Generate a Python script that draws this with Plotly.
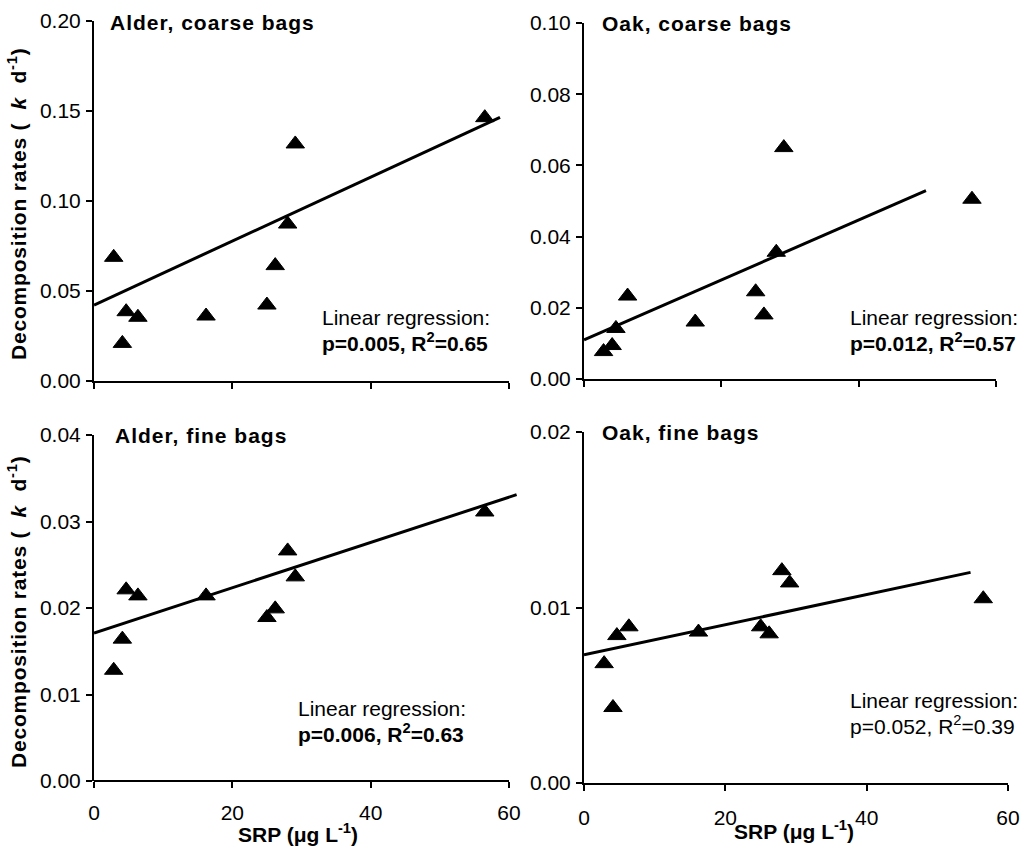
import plotly.graph_objects as go

# SRP concentration at each site (ug/L), shared by all four panels
srp = [2.85, 4.1, 4.65, 6.35, 16.2, 25.0, 26.2, 28.0, 29.1, 56.5]

# Decomposition rates k (per day)
alder_coarse = [0.0687, 0.0209, 0.0385, 0.0354, 0.0361, 0.0422, 0.0641, 0.0872, 0.1317, 0.1463]
oak_coarse = [0.0077, 0.0094, 0.0142, 0.0233, 0.0160, 0.0245, 0.0180, 0.0356, 0.0650, 0.0505]
alder_fine = [0.0128, 0.0164, 0.0221, 0.0214, 0.0214, 0.0189, 0.0199, 0.0266, 0.0236, 0.0311]
oak_fine = [0.0068, 0.0043, 0.0084, 0.0089, 0.0086, 0.0089, 0.0085, 0.0121, 0.0114, 0.0105]

# Fitted regression lines (end points)
fit_alder_coarse_x = [0, 58.7]
fit_alder_coarse_y = [0.0422, 0.1465]
fit_oak_coarse_x = [0, 49.8]
fit_oak_coarse_y = [0.0110, 0.0529]
fit_alder_fine_x = [0, 61.1]
fit_alder_fine_y = [0.0171, 0.0331]
fit_oak_fine_x = [0, 54.7]
fit_oak_fine_y = [0.0073, 0.0120]

panel_titles = ["Alder, coarse bags", "Oak, coarse bags", "Alder, fine bags", "Oak, fine bags"]
stats_text = ["p=0.005, R<sup>2</sup>=0.65", "p=0.012, R<sup>2</sup>=0.57",
              "p=0.006, R<sup>2</sup>=0.63", "p=0.052, R<sup>2</sup>=0.39"]
stats_bold = [True, True, True, False]

x_ticks = [0, 20, 40, 60]

W, H = 1030, 854
FONT = "Liberation Sans, Arial, sans-serif"


def px(x):
    return x / W


def py(y):
    return 1 - y / H


fig = go.Figure()

panels = [
    (srp, alder_coarse, fit_alder_coarse_x, fit_alder_coarse_y, "x", "y"),
    (srp, oak_coarse, fit_oak_coarse_x, fit_oak_coarse_y, "x2", "y2"),
    (srp, alder_fine, fit_alder_fine_x, fit_alder_fine_y, "x3", "y3"),
    (srp, oak_fine, fit_oak_fine_x, fit_oak_fine_y, "x4", "y4"),
]

for xs, ys, fx, fy, xa, ya in panels:
    fig.add_trace(go.Scatter(x=fx, y=fy, mode="lines", xaxis=xa, yaxis=ya,
                             line=dict(color="black", width=3), showlegend=False,
                             hoverinfo="skip"))
    fig.add_trace(go.Scatter(x=xs, y=ys, mode="markers", xaxis=xa, yaxis=ya,
                             marker=dict(symbol="triangle-up", size=16, color="black",
                                         line=dict(color="black", width=1)),
                             showlegend=False, cliponaxis=False))

axis_common = dict(
    showline=True, linecolor="black", linewidth=2,
    ticks="outside", ticklen=6, tickwidth=2, tickcolor="black",
    showgrid=False, zeroline=False, automargin=False,
    tickfont=dict(family=FONT, size=21, color="black"),
)

# panel geometry in pixels: (left, right, top, bottom)
geo = {
    1: (94, 509, 21, 381),
    2: (584, 996, 23, 379),
    3: (94, 517.3, 435, 781),
    4: (584, 1008, 432, 783),
}
y_ranges = {1: (0, 0.20, 0.05), 2: (0, 0.10, 0.02), 3: (0, 0.04, 0.01), 4: (0, 0.02, 0.01)}
x_ranges = {1: (0, 60), 2: (0, 60), 3: (0, 61.2), 4: (0, 60)}

layout = dict(
    width=W, height=H, autosize=False,
    margin=dict(l=0, r=0, t=0, b=0, pad=0, autoexpand=False),
    paper_bgcolor="white", plot_bgcolor="white",
    showlegend=False,
)

for i in range(1, 5):
    l, r, t, b = geo[i]
    sfx = "" if i == 1 else str(i)
    y0, y1, dy = y_ranges[i]
    xa = dict(axis_common, domain=[px(l), px(r)], range=list(x_ranges[i]),
              tickvals=x_ticks, anchor="y" + sfx,
              showticklabels=i >= 3, ticklabelstandoff=7 if i == 3 else 9)
    if i == 3:
        xa["showline"] = False
    ya = dict(axis_common, domain=[py(b), py(t)], range=[y0, y1], dtick=dy,
              tick0=0, tickformat=".2f", anchor="x" + sfx, ticklabelstandoff=1)
    layout["xaxis" + sfx] = xa
    layout["yaxis" + sfx] = ya

fig.update_layout(**layout)

# x axis line of the lower-left panel stops at 60 while the fit continues past it
fig.add_shape(type="line", xref="x3", yref="y3 domain", x0=0, x1=60, y0=0, y1=0,
              line=dict(color="black", width=2), layer="above")

annotations = []

# panel titles
title_pos = [(108, 22), (600, 23), (113, 435), (600, 432)]
for (tx, ty), txt in zip(title_pos, panel_titles):
    annotations.append(dict(
        x=px(tx), y=py(ty), xref="paper", yref="paper", xanchor="left", yanchor="middle",
        text="<b><span style='letter-spacing:1px'>%s</span></b>" % txt, showarrow=False,
        font=dict(family=FONT, size=21, color="black")))

# regression statistics
stat_pos = [(320, 317, 342), (848, 317, 342), (296, 708, 733), (848, 700, 725)]
for (sx, sy1, sy2), txt, bold in zip(stat_pos, stats_text, stats_bold):
    annotations.append(dict(
        x=px(sx), y=py(sy1), xref="paper", yref="paper", xanchor="left", yanchor="middle",
        text="Linear regression:", showarrow=False,
        font=dict(family=FONT, size=21, color="black")))
    annotations.append(dict(
        x=px(sx), y=py(sy2), xref="paper", yref="paper", xanchor="left", yanchor="middle",
        text=("<b>%s</b>" % txt) if bold else txt, showarrow=False,
        font=dict(family=FONT, size=21, color="black")))

# axis titles
y_title = ("<b><span style='letter-spacing:0.8px'>Decomposition rates "
           "(\u00a0 <i>k</i> \u00a0d<sup>-1</sup>)</span></b>")
for cy in (204, 612):
    annotations.append(dict(
        x=px(17), y=py(cy), xref="paper", yref="paper", xanchor="center", yanchor="middle",
        text=y_title, textangle=-90, showarrow=False,
        font=dict(family=FONT, size=21, color="black")))

x_title = "<b>SRP (\u03bcg L<sup>-1</sup>)</b>"
for cx, cy in ((298, 833), (794, 830)):
    annotations.append(dict(
        x=px(cx), y=py(cy), xref="paper", yref="paper", xanchor="center", yanchor="middle",
        text=x_title, showarrow=False,
        font=dict(family=FONT, size=21, color="black")))

fig.update_layout(annotations=annotations)

fig.write_html("out.html")
